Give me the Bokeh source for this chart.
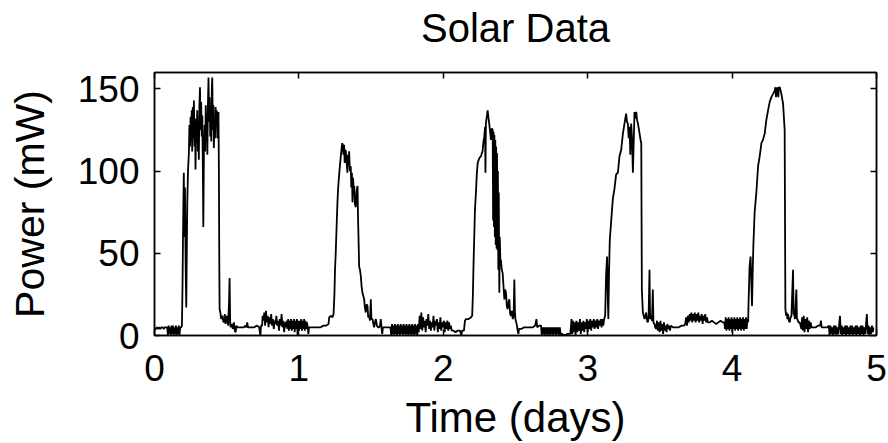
from bokeh.plotting import figure
from bokeh.models import Range1d, LinearAxis, FixedTicker
from bokeh.embed import file_html
from bokeh.resources import INLINE

# (time in days, power in mW)
seg_day0 = [
    (0.000, 3), (0.008, 4), (0.016, 5), (0.024, 4), (0.032, 5), (0.040, 4), (0.048, 5), (0.056, 5),
    (0.064, 4), (0.072, 5), (0.080, 5), (0.088, 5),
    (0.093, 0), (0.098, 6), (0.103, 1), (0.108, 5), (0.113, 0), (0.118, 6), (0.123, 1), (0.128, 6),
    (0.133, 0), (0.138, 5), (0.143, 1), (0.148, 6), (0.153, 0), (0.158, 5), (0.163, 1), (0.168, 6),
    (0.173, 0), (0.178, 5), (0.185, 5), (0.190, 6),
    (0.194, 30), (0.197, 56), (0.200, 80), (0.203, 99), (0.207, 60), (0.211, 90), (0.216, 40), (0.220, 17),
    (0.224, 55), (0.227, 81), (0.232, 100), (0.238, 111), (0.242, 128), (0.246, 115), (0.250, 133),
    (0.254, 118), (0.258, 137), (0.261, 112), (0.265, 139), (0.269, 120), (0.273, 143), (0.277, 115),
    (0.281, 130), (0.284, 101), (0.288, 132), (0.292, 118), (0.296, 137), (0.300, 112), (0.304, 128),
    (0.307, 107), (0.311, 140), (0.315, 151), (0.319, 125), (0.323, 142), (0.327, 121), (0.331, 134),
    (0.335, 100), (0.338, 66), (0.342, 110), (0.347, 128), (0.351, 112), (0.355, 140), (0.359, 118),
    (0.363, 135), (0.366, 110), (0.370, 140), (0.374, 157), (0.378, 130), (0.382, 145), (0.386, 121),
    (0.390, 135), (0.393, 118), (0.397, 150), (0.400, 157), (0.404, 125), (0.408, 140), (0.411, 114),
    (0.415, 130), (0.419, 120), (0.423, 139), (0.427, 128), (0.431, 137), (0.435, 120), (0.439, 135),
    (0.443, 136), (0.446, 99), (0.449, 40), (0.451, 16),
    (0.456, 14), (0.462, 10), (0.469, 12), (0.475, 9), (0.481, 8), (0.487, 13), (0.493, 7), (0.499, 11),
    (0.504, 12), (0.510, 6), (0.516, 20), (0.520, 35), (0.524, 8), (0.527, 5), (0.535, 7), (0.542, 4),
    (0.550, 8), (0.556, 3), (0.562, 2), (0.567, 6), (0.573, 5), (0.585, 5), (0.600, 5), (0.612, 5),
    (0.619, 5), (0.630, 6), (0.636, 5), (0.642, 8), (0.648, 5), (0.654, 5), (0.670, 5), (0.690, 5),
    (0.710, 6), (0.725, 5), (0.733, 0), (0.738, 6), (0.745, 6), (0.749, 12),
]
seg_night0 = [
    (0.755, 9), (0.760, 14), (0.766, 6), (0.772, 15), (0.778, 8), (0.784, 12), (0.790, 5), (0.796, 11),
    (0.802, 7), (0.808, 13), (0.814, 6), (0.820, 10), (0.826, 4), (0.832, 9), (0.838, 7), (0.844, 12),
    (0.850, 6), (0.856, 9), (0.862, 3), (0.868, 10), (0.874, 6), (0.880, 13), (0.886, 5), (0.892, 9),
    (0.898, 2), (0.904, 8), (0.910, 5), (0.916, 9),
    (0.921, 4), (0.926, 10), (0.931, 3), (0.936, 9), (0.941, 4), (0.946, 10), (0.951, 3), (0.956, 9),
    (0.961, 4), (0.966, 10), (0.971, 2), (0.976, 9), (0.981, 4), (0.986, 10), (0.991, 0), (0.996, 9),
    (1.001, 3), (1.006, 9), (1.011, 4), (1.016, 10), (1.021, 3), (1.026, 9), (1.031, 4), (1.036, 10),
    (1.041, 3), (1.046, 9), (1.051, 4), (1.056, 8),
    (1.061, 5), (1.066, 1), (1.070, 5), (1.090, 5), (1.110, 5), (1.130, 5), (1.150, 5), (1.170, 6),
    (1.190, 6), (1.205, 7), (1.210, 11), (1.220, 12), (1.232, 11), (1.240, 13),
]
seg_day1 = [
    (1.246, 25), (1.250, 40), (1.255, 50), (1.261, 66), (1.267, 81), (1.272, 90), (1.278, 97),
    (1.284, 103), (1.290, 109), (1.296, 114), (1.300, 117), (1.304, 116), (1.308, 110), (1.313, 116),
    (1.317, 105), (1.321, 113), (1.325, 112), (1.330, 106), (1.336, 99), (1.340, 110), (1.344, 103),
    (1.348, 112), (1.353, 100), (1.359, 103), (1.363, 90), (1.367, 99), (1.371, 81), (1.375, 96),
    (1.380, 88), (1.383, 91), (1.388, 80), (1.394, 78), (1.400, 88), (1.406, 91), (1.410, 70),
    (1.414, 55), (1.417, 42), (1.423, 40), (1.429, 36), (1.434, 30), (1.440, 26), (1.446, 24),
    (1.452, 22), (1.457, 17), (1.463, 14), (1.469, 19), (1.475, 18), (1.480, 11), (1.486, 12),
    (1.492, 9), (1.498, 22), (1.502, 10), (1.510, 10), (1.516, 7), (1.521, 5), (1.527, 8), (1.533, 10),
    (1.540, 6), (1.548, 5), (1.556, 5), (1.562, 6), (1.567, 10), (1.572, 5), (1.577, 1), (1.582, 5),
    (1.600, 5), (1.620, 5), (1.634, 5),
]
seg_night1 = [
    (1.640, 0), (1.645, 7), (1.650, 1), (1.655, 6), (1.660, 0), (1.665, 7), (1.670, 1), (1.675, 6),
    (1.680, 0), (1.685, 7), (1.690, 1), (1.695, 6), (1.700, 0), (1.705, 7), (1.710, 1), (1.715, 6),
    (1.720, 0), (1.725, 7), (1.730, 1), (1.735, 6), (1.740, 0), (1.745, 7), (1.750, 1), (1.755, 6),
    (1.760, 0), (1.765, 7), (1.770, 1), (1.775, 6), (1.780, 0), (1.785, 7), (1.790, 1), (1.795, 6),
    (1.800, 0), (1.805, 7), (1.810, 1), (1.815, 6), (1.820, 0), (1.825, 7), (1.830, 2),
    (1.836, 12), (1.842, 4), (1.848, 14), (1.854, 3), (1.860, 11), (1.866, 5), (1.872, 9), (1.878, 2),
    (1.884, 10), (1.890, 6), (1.896, 13), (1.902, 4), (1.908, 9), (1.914, 3), (1.920, 8), (1.926, 5),
    (1.932, 12), (1.938, 3), (1.944, 9), (1.950, 6), (1.956, 10), (1.962, 2), (1.968, 8), (1.974, 4),
    (1.980, 11), (1.986, 3), (1.992, 8), (1.998, 5), (2.004, 9), (2.010, 2), (2.016, 8), (2.022, 4),
    (2.028, 9), (2.034, 3), (2.040, 8), (2.046, 4), (2.052, 6),
    (2.058, 3), (2.070, 3), (2.085, 2), (2.100, 3), (2.115, 3), (2.125, 0), (2.130, 3), (2.143, 3),
    (2.150, 9), (2.157, 10), (2.175, 10), (2.191, 11), (2.200, 12),
]
seg_day2 = [
    (2.205, 25), (2.210, 46), (2.215, 62), (2.219, 76), (2.226, 87), (2.232, 98), (2.238, 105),
    (2.250, 108), (2.261, 109), (2.267, 111), (2.272, 112), (2.278, 118), (2.284, 121), (2.289, 127),
    (2.292, 99), (2.295, 129), (2.301, 133), (2.307, 137), (2.312, 133), (2.318, 129), (2.324, 124),
    (2.330, 119), (2.336, 126), (2.342, 125),
    (2.345, 70), (2.348, 124), (2.351, 66), (2.354, 122), (2.357, 60), (2.360, 119), (2.363, 55),
    (2.366, 115), (2.369, 53), (2.372, 111), (2.375, 52), (2.378, 100), (2.381, 40), (2.384, 87),
    (2.388, 26), (2.391, 60), (2.395, 46), (2.399, 46), (2.405, 40), (2.411, 38), (2.417, 30),
    (2.423, 22), (2.428, 28), (2.434, 26), (2.440, 18), (2.446, 16), (2.451, 20), (2.457, 22),
    (2.463, 13), (2.469, 12), (2.475, 15), (2.481, 10), (2.487, 12), (2.492, 34), (2.496, 15),
    (2.499, 10), (2.505, 8), (2.510, 6), (2.515, 3), (2.520, 1), (2.524, 4), (2.540, 4), (2.560, 5),
    (2.580, 5), (2.600, 5), (2.620, 5), (2.636, 6), (2.645, 10), (2.650, 5), (2.665, 6), (2.677, 6),
]
seg_night2 = [
    (2.682, 0), (2.687, 5), (2.692, 1), (2.697, 5), (2.702, 0), (2.707, 5), (2.712, 1), (2.717, 5),
    (2.722, 0), (2.727, 5), (2.732, 1), (2.737, 5), (2.742, 0), (2.747, 5), (2.752, 1), (2.757, 5),
    (2.762, 0), (2.767, 5), (2.772, 1), (2.777, 5), (2.782, 0), (2.787, 5), (2.792, 1), (2.797, 5),
    (2.802, 0), (2.807, 5), (2.812, 1),
    (2.820, 1), (2.840, 0), (2.860, 1), (2.880, 1),
    (2.888, 10), (2.893, 1), (2.898, 9), (2.904, 2), (2.910, 8), (2.916, 0), (2.922, 9), (2.928, 2),
    (2.934, 8), (2.940, 3), (2.946, 10), (2.952, 1), (2.958, 8), (2.964, 3), (2.970, 9), (2.976, 2),
    (2.982, 8), (2.988, 4), (2.994, 10), (3.000, 2), (3.006, 9), (3.012, 4), (3.018, 10), (3.024, 3),
    (3.030, 9), (3.036, 5), (3.042, 10), (3.048, 4), (3.054, 9), (3.060, 5), (3.066, 10), (3.072, 4),
    (3.078, 9), (3.084, 6), (3.090, 10), (3.096, 5), (3.102, 10), (3.108, 6), (3.114, 10),
]
seg_day3 = [
    (3.121, 12), (3.127, 36), (3.134, 48), (3.140, 20), (3.143, 10), (3.148, 40), (3.153, 58),
    (3.162, 69), (3.174, 83), (3.185, 89), (3.197, 98), (3.209, 99), (3.220, 109), (3.232, 113),
    (3.244, 123), (3.255, 129), (3.266, 135), (3.272, 130), (3.278, 129), (3.284, 120), (3.290, 127),
    (3.295, 110), (3.301, 129), (3.307, 120), (3.313, 99), (3.318, 115), (3.324, 136), (3.330, 132),
    (3.336, 136), (3.342, 131), (3.348, 129), (3.359, 123), (3.368, 118), (3.371, 117), (3.375, 28),
    (3.382, 14), (3.388, 12), (3.394, 10), (3.400, 12), (3.405, 14), (3.411, 9), (3.417, 8),
    (3.422, 12), (3.428, 40), (3.432, 10), (3.438, 12), (3.445, 9), (3.451, 28), (3.455, 8),
    (3.462, 7), (3.468, 5), (3.474, 4),
]
seg_night3 = [
    (3.480, 9), (3.486, 3), (3.492, 8), (3.498, 2), (3.504, 9), (3.510, 3), (3.516, 7), (3.522, 1),
    (3.528, 8), (3.534, 3), (3.540, 6), (3.546, 2), (3.552, 7), (3.558, 4), (3.564, 6), (3.570, 3),
    (3.576, 6), (3.590, 5), (3.610, 5), (3.630, 5), (3.650, 6), (3.668, 6),
    (3.675, 7), (3.682, 11), (3.688, 6), (3.694, 12), (3.700, 8), (3.706, 13), (3.712, 9), (3.718, 14),
    (3.724, 8), (3.730, 13), (3.736, 9), (3.742, 14), (3.748, 8), (3.754, 13), (3.760, 9), (3.766, 14),
    (3.772, 8), (3.778, 12), (3.784, 9), (3.790, 13), (3.796, 7), (3.802, 12), (3.808, 9), (3.814, 13),
    (3.820, 8), (3.826, 11), (3.832, 8),
    (3.845, 8), (3.860, 9), (3.875, 8), (3.890, 7), (3.905, 8), (3.920, 9), (3.935, 8), (3.946, 8),
    (3.951, 4), (3.956, 11), (3.961, 3), (3.966, 10), (3.971, 4), (3.976, 11), (3.981, 3), (3.986, 10),
    (3.991, 4), (3.996, 11), (4.001, 2), (4.006, 10), (4.011, 4), (4.016, 11), (4.021, 3), (4.026, 10),
    (4.031, 4), (4.036, 11), (4.041, 3), (4.046, 10), (4.051, 4), (4.056, 11), (4.061, 3), (4.066, 10),
    (4.071, 4), (4.076, 11), (4.081, 3), (4.086, 10), (4.091, 4), (4.096, 11), (4.101, 4), (4.106, 10),
    (4.111, 8),
]
seg_day4 = [
    (4.114, 20), (4.121, 42), (4.128, 48), (4.134, 30), (4.138, 18), (4.143, 40), (4.147, 54),
    (4.156, 75), (4.168, 87), (4.180, 103), (4.191, 109), (4.203, 117), (4.214, 119), (4.226, 123),
    (4.237, 131), (4.249, 137), (4.260, 142), (4.272, 145), (4.284, 147), (4.295, 149), (4.300, 151),
    (4.304, 145), (4.308, 151), (4.312, 146), (4.316, 151), (4.320, 145), (4.324, 151), (4.330, 151),
    (4.336, 149), (4.341, 147), (4.353, 141), (4.364, 125), (4.369, 16), (4.374, 12), (4.378, 14),
    (4.383, 10), (4.387, 13), (4.393, 9), (4.399, 8), (4.405, 11), (4.411, 12), (4.422, 40),
    (4.426, 13), (4.429, 13), (4.436, 10), (4.445, 28), (4.449, 10), (4.452, 10), (4.460, 8),
    (4.468, 8), (4.474, 6), (4.480, 4),
    (4.485, 11), (4.490, 3), (4.496, 12), (4.502, 2), (4.508, 10), (4.514, 4), (4.520, 11), (4.526, 2),
    (4.532, 9), (4.538, 4), (4.544, 8), (4.550, 5),
    (4.565, 5), (4.580, 5), (4.595, 6), (4.610, 6), (4.615, 9), (4.620, 5), (4.640, 5), (4.660, 5),
    (4.670, 6),
]
seg_night4 = [
    (4.675, 0), (4.681, 6), (4.687, 1), (4.693, 5), (4.699, 0), (4.705, 6), (4.711, 1), (4.717, 6),
    (4.723, 0), (4.729, 5), (4.735, 1), (4.741, 6), (4.747, 12), (4.753, 1), (4.759, 6), (4.765, 0),
    (4.771, 5), (4.777, 1), (4.783, 6), (4.789, 0), (4.795, 6), (4.801, 1), (4.807, 5), (4.813, 0),
    (4.819, 6), (4.825, 1), (4.831, 6), (4.837, 0), (4.843, 5), (4.849, 1), (4.855, 6), (4.861, 0),
    (4.867, 6), (4.873, 1), (4.879, 5), (4.885, 0), (4.891, 6), (4.897, 1), (4.903, 6), (4.909, 0),
    (4.915, 5), (4.921, 1), (4.927, 6), (4.933, 13), (4.939, 1), (4.945, 6), (4.951, 0), (4.957, 5),
    (4.963, 1), (4.969, 6), (4.975, 2), (4.979, 5),
]

x_ticks = [0, 1, 2, 3, 4, 5]
y_ticks = [0, 50, 100, 150]
title_text = "Solar Data"
x_label = "Time (days)"
y_label = "Power (mW)"

segments = [seg_day0, seg_night0, seg_day1, seg_night1, seg_day2, seg_night2,
            seg_day3, seg_night3, seg_day4, seg_night4]
t = [pt[0] for seg in segments for pt in seg]
pw = [pt[1] for seg in segments for pt in seg]

FONT = "Liberation Sans"

p = figure(width=888, height=443, output_backend="svg", toolbar_location=None,
           x_range=Range1d(0, 5), y_range=Range1d(0, 160),
           min_border_left=154, min_border_right=12, min_border_top=72, min_border_bottom=107,
           x_axis_label=x_label, y_axis_label=y_label)

p.line(t, pw, line_color="black", line_width=1.8)

p.xgrid.visible = False
p.ygrid.visible = False
p.outline_line_color = "black"
p.outline_line_width = 1.5
p.background_fill_color = "white"
p.border_fill_color = "white"


def style(ax, ticks, show_labels=True):
    ax.ticker = FixedTicker(ticks=ticks)
    ax.major_tick_in = 6
    ax.major_tick_out = 0
    ax.minor_tick_line_color = None
    ax.axis_line_color = "black"
    ax.axis_line_width = 1.5
    ax.major_tick_line_color = "black"
    ax.major_tick_line_width = 1.5
    ax.major_label_text_font = FONT
    if show_labels:
        ax.major_label_text_color = "black"
        ax.major_label_text_font_size = "37px"
        ax.major_label_standoff = 15
    else:
        ax.major_label_text_color = None
        ax.major_label_text_font_size = "1px"
        ax.major_label_standoff = 0


def style_label(ax, size, standoff):
    ax.axis_label_text_font = FONT
    ax.axis_label_text_font_size = size
    ax.axis_label_text_font_style = "normal"
    ax.axis_label_text_color = "black"
    ax.axis_label_standoff = standoff


style(p.xaxis[0], x_ticks)
style(p.yaxis[0], y_ticks)
p.xaxis[0].major_label_standoff = 19
style_label(p.xaxis[0], "42px", 10)
style_label(p.yaxis[0], "41px", 22)

# top axis: inward ticks only; its axis label carries the chart title
top_axis = LinearAxis(axis_label=title_text)
style(top_axis, x_ticks, show_labels=False)
style_label(top_axis, "40px", 23)
p.add_layout(top_axis, "above")

right_axis = LinearAxis()
style(right_axis, y_ticks, show_labels=False)
p.add_layout(right_axis, "right")

open("out.html", "w").write(file_html(p, INLINE))
